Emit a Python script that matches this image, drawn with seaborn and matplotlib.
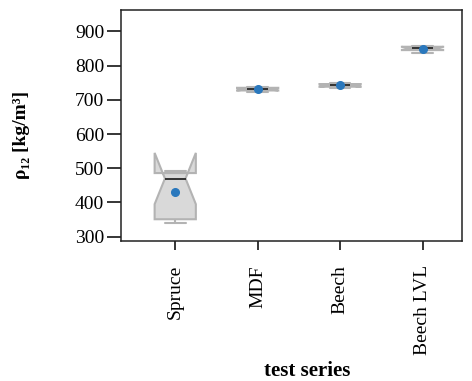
import numpy as np
import pandas as pd
import seaborn as sns
import matplotlib.pyplot as plt

# density values per test series [kg/m3]
series = ["Spruce", "MDF", "Beech", "Beech LVL"]
spruce = [340, 345, 353, 455, 485, 485, 489, 491]
mdf = [724, 725, 726, 728, 730, 731, 731, 733, 735, 736, 737, 737]
beech = [735, 736, 737, 739, 741, 742, 742, 744, 746, 747, 748, 749]
beech_lvl = [837, 842, 844, 846, 849, 850, 851, 853, 855, 856, 857, 858]

rows = []
for name, vals in zip(series, [spruce, mdf, beech, beech_lvl]):
    for v in vals:
        rows.append({"test series": name, "rho": v})
df = pd.DataFrame(rows)

sns.set_style("ticks")
plt.rcParams["font.family"] = ["Liberation Serif", "DejaVu Serif"]
plt.rcParams["text.color"] = "black"
plt.rcParams["axes.labelcolor"] = "black"
plt.rcParams["xtick.color"] = "black"
plt.rcParams["ytick.color"] = "black"

fig = plt.figure(figsize=(4.72, 3.81), dpi=100)
ax = fig.add_axes([0.256, 0.368, 0.723, 0.606])

sns.boxplot(data=df, x="test series", y="rho", order=series, ax=ax,
            color="#d9d9d9", linecolor="#b3b3b3", linewidth=1.5,
            saturation=1, width=0.5, notch=True, showmeans=True,
            meanprops=dict(marker="o", markerfacecolor="#2a78bd",
                           markeredgecolor="#2a78bd", markersize=5.5),
            medianprops=dict(color="#333333", linewidth=1.4))

ax.set_ylim(288, 963)
ax.set_xlim(-0.66, 3.48)
ax.set_yticks([300, 400, 500, 600, 700, 800, 900])
for s in ax.spines.values():
    s.set_visible(True)
    s.set_linewidth(1.1)
    s.set_color("#222222")
ax.tick_params(axis="y", length=10, width=1.1, labelsize=14, pad=2)
ax.tick_params(axis="x", length=6.5, width=1.1, labelsize=14, rotation=90, pad=11)

ax.set_ylabel("ρ₁₂ [kg/m³]", fontsize=14, fontweight="bold")
ax.yaxis.set_label_coords(-0.265, 0.458)
ax.set_xlabel("test series", fontsize=15, fontweight="bold")
ax.xaxis.set_label_coords(0.546, -0.52)

fig.savefig("out.png", dpi=100)
